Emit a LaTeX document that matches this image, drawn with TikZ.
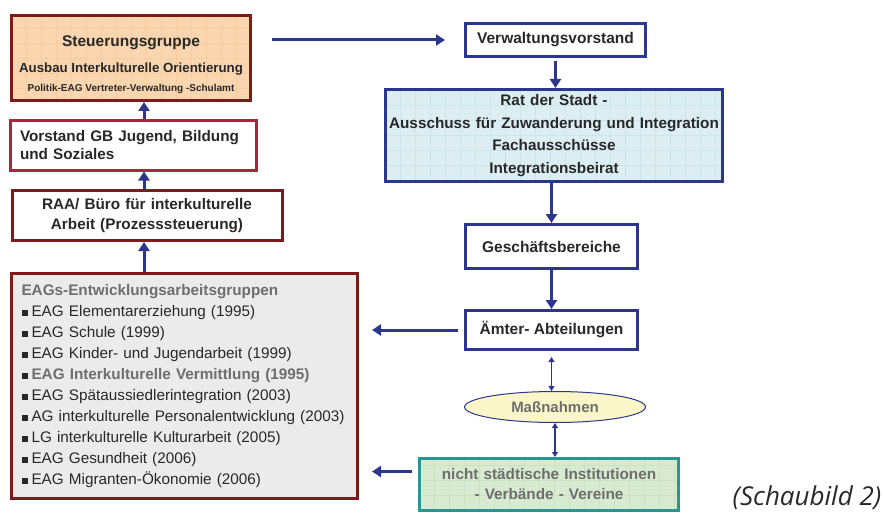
\documentclass[tikz,border=0pt]{standalone}
\usepackage{fontspec}
\setmainfont{Liberation Sans}
\newfontfamily\notefont{Open Sans}
\usetikzlibrary{shapes.geometric, arrows.meta, positioning, calc}

\definecolor{darkred}{RGB}{125, 26, 26}
\definecolor{crimson}{RGB}{165, 40, 60}
\definecolor{flowblue}{RGB}{44, 54, 140}
\definecolor{tealline}{RGB}{40, 150, 145}
\definecolor{peach}{RGB}{249, 214, 176}
\definecolor{peachgrid}{RGB}{246, 204, 160}
\definecolor{icecyan}{RGB}{220, 238, 242}
\definecolor{icegrid}{RGB}{204, 229, 237}
\definecolor{mintgreen}{RGB}{216, 234, 208}
\definecolor{mintgrid}{RGB}{202, 226, 192}
\definecolor{lightgray}{RGB}{235, 235, 235}
\definecolor{paleyellow}{RGB}{250, 246, 200}
\definecolor{textdark}{RGB}{40, 40, 40}
\definecolor{textgray}{RGB}{110, 110, 110}

\tikzset{
  box/.style={draw, line width=3pt, inner sep=0pt, font=\bfseries, text=textdark},
  gridfill/.style={path picture={\draw[#1, line width=0.5pt, step=15pt]
      (path picture bounding box.south west) grid (path picture bounding box.north east);}},
  flow/.style={draw=flowblue, line width=3pt, -{Triangle[length=9pt, width=11pt]}},
  link/.style={draw=flowblue, line width=1.5pt,
    {Triangle[length=5pt, width=6pt]}-{Triangle[length=5pt, width=6pt]}},
}

\newcommand{\sqbullet}{\textcolor{textdark}{\raisebox{0.5pt}{\rule{6pt}{6pt}}}\hspace{4pt}}

\begin{document}
\begin{tikzpicture}[x=1pt, y=-1pt]
  \useasboundingbox (0,0) rectangle (883,516);
  \coordinate (spine) at (144,0);

  % left column
  \node[box, draw=darkred, fill=peach, gridfill=peachgrid, minimum width=239pt, minimum height=85pt,
        label={[yshift=-7pt, align=center, text=textdark, font=\bfseries]center:
          {\fontsize{15.5}{17}\selectfont Steuerungsgruppe}\\[12pt]
          {\fontsize{13.3}{15}\selectfont Ausbau Interkulturelle Orientierung}\\[7pt]
          {\fontsize{10}{12}\selectfont Politik-EAG Vertreter-Verwaltung -Schulamt}}]
    (steuer) at (131,58) {};
  \node[box, draw=crimson, fill=white, inner xsep=10pt, text width=226pt, minimum height=49pt, align=left,
        font=\bfseries\fontsize{15.3}{18}\selectfont]
    (vorstand) at (133,145.5) {Vorstand GB Jugend, Bildung\\und Soziales};
  \node[box, draw=darkred, fill=white, text width=270pt, minimum height=50pt, align=center,
        font=\bfseries\fontsize{15.3}{20}\selectfont]
    (raa) at (147,215.5) {RAA/ Büro für interkulturelle\\Arbeit (Prozesssteuerung)};
  \node[box, draw=darkred, fill=lightgray, inner xsep=10pt, text width=326pt, minimum height=225pt, align=left,
        font=\mdseries\fontsize{15.3}{20.9}\selectfont]
    (eag) at (184.5,386)
    {\textcolor{textgray}{\bfseries EAGs-Entwicklungsarbeitsgruppen}\\
     \sqbullet EAG Elementarerziehung (1995)\\
     \sqbullet EAG Schule (1999)\\
     \sqbullet EAG Kinder- und Jugendarbeit (1999)\\
     \sqbullet\textcolor{textgray}{\bfseries EAG Interkulturelle Vermittlung (1995)}\\
     \sqbullet EAG Spätaussiedlerintegration (2003)\\
     \sqbullet AG interkulturelle Personalentwicklung (2003)\\
     \sqbullet LG interkulturelle Kulturarbeit (2005)\\
     \sqbullet EAG Gesundheit (2006)\\
     \sqbullet EAG Migranten-Ökonomie (2006)};

  % right column
  \node[box, draw=flowblue, fill=white, minimum width=180pt, minimum height=33pt, font=\bfseries\fontsize{15.5}{17}\selectfont]
    (verw) at (555.5,40) {Verwaltungsvorstand};
  \node[box, draw=flowblue, fill=icecyan, gridfill=icegrid, text width=337pt, minimum height=92pt, align=center,
        font=\bfseries\fontsize{15.3}{22.7}\selectfont]
    (rat) at (554,135.5)
    {Rat der Stadt -\\Ausschuss für Zuwanderung und Integration\\Fachausschüsse\\Integrationsbeirat};
  \node[box, draw=flowblue, fill=white, minimum width=172pt, minimum height=44pt, font=\bfseries\fontsize{15.5}{17}\selectfont]
    (gesch) at (551.5,246.5) {Geschäftsbereiche};
  \node[box, draw=flowblue, fill=white, minimum width=172pt, minimum height=39pt, font=\bfseries\fontsize{15.5}{17}\selectfont]
    (aemter) at (551.5,330) {Ämter- Abteilungen};
  \node[ellipse, draw=flowblue, line width=1pt, fill=paleyellow, inner sep=0pt, minimum width=181pt, minimum height=31pt,
        text=textgray, font=\bfseries\fontsize{15}{17}\selectfont]
    (mass) at (555,407) {Maßnahmen};
  \node[box, draw=tealline, fill=mintgreen, gridfill=mintgrid, text width=259pt, minimum height=52pt, align=center,
        text=textgray, font=\bfseries\fontsize{15.3}{20}\selectfont]
    (nicht) at (549,484.5) {nicht städtische Institutionen\\- Verbände - Vereine};

  \node[font=\notefont\itshape\fontsize{26}{28}\selectfont, text=textdark] (schaubild) at (807,498) {(Schaubild 2)};

  % connectors
  \draw[flow] (raa.north -| spine) -- (vorstand.south -| spine);
  \draw[flow] (vorstand.north -| spine) -- (steuer.south -| spine);
  \draw[flow] (eag.north -| spine) -- (raa.south -| spine);
  \draw[flow, shorten <=20pt, shorten >=19pt] (steuer.east |- verw.west) -- (verw.west);
  \draw[flow, shorten <=3pt] (verw.south) -- (verw.south |- rat.north);
  \draw[flow] (rat.south -| gesch.north) -- (gesch.north);
  \draw[flow] (gesch.south) -- (aemter.north);
  \draw[flow, shorten <=6pt, shorten >=13pt] (aemter.west) -- (aemter.west -| eag.east);
  \draw[flow, shorten <=6pt, shorten >=13pt] ([yshift=13pt]nicht.west) -- ([yshift=13pt]nicht.west -| eag.east);
  \draw[link, shorten <=6pt] (aemter.south) -- (aemter.south |- mass.north);
  \draw[link] (mass.south) -- (mass.south |- nicht.north);
\end{tikzpicture}
\end{document}
